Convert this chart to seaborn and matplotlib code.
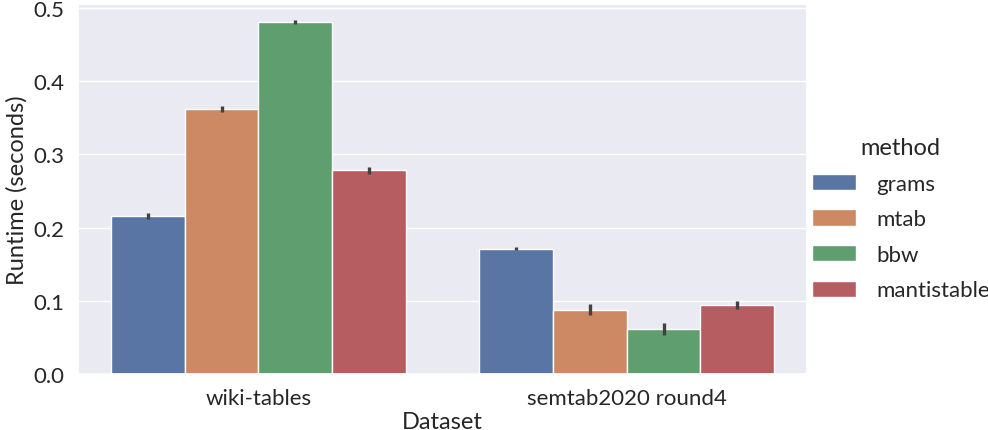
import pandas as pd
import matplotlib.pyplot as plt
import seaborn as sns

# ========== DATA ==========
datasets = ["wiki-tables", "semtab2020 round4"]
methods = ["grams", "mtab", "bbw", "mantistable"]
runtime_wiki = [0.216, 0.362, 0.481, 0.278]
runtime_semtab = [0.171, 0.088, 0.061, 0.094]
err_wiki = [0.004, 0.004, 0.003, 0.005]
err_semtab = [0.002, 0.0075, 0.008, 0.0055]

rows = []
for m, v, e in zip(methods, runtime_wiki, err_wiki):
    rows.append({"dataset": datasets[0], "method": m, "runtime": v, "err": e})
for m, v, e in zip(methods, runtime_semtab, err_semtab):
    rows.append({"dataset": datasets[1], "method": m, "runtime": v, "err": e})
df = pd.DataFrame(rows)

# ========== PLOT ==========
sns.set_theme(style="darkgrid")
plt.rcParams['font.family'] = ['Lato', 'DejaVu Sans']

fig = plt.figure(figsize=(9.88, 4.31), dpi=100)
ax = fig.add_subplot(111)
sns.barplot(data=df, x="dataset", y="runtime", hue="method", order=datasets,
            hue_order=methods, errorbar=None, ax=ax)

# error bars drawn at the bar centres
for i, m in enumerate(methods):
    cont = ax.containers[i]
    sub = df[df["method"] == m].set_index("dataset").loc[datasets]
    xs = [p.get_x() + p.get_width() / 2 for p in cont.patches]
    ax.errorbar(xs, sub["runtime"], yerr=sub["err"], fmt="none",
                ecolor=".26", elinewidth=2.4, capsize=0)

ax.set_xlabel("Dataset", fontsize=17, labelpad=2)
ax.set_ylabel("Runtime (seconds)", fontsize=17)
ax.tick_params(labelsize=16, pad=4)
ax.set_ylim(0, 0.505)

# legend centred on the figure like a catplot legend
sns.move_legend(ax, "center left", bbox_to_anchor=(0.817, 0.49),
                bbox_transform=fig.transFigure, frameon=False,
                title="method", fontsize=16, title_fontsize=17,
                handlelength=2.0, handleheight=0.75, handletextpad=0.9,
                labelspacing=0.7, borderaxespad=0.0, borderpad=0.2)

plt.subplots_adjust(left=0.079, right=0.817, top=0.988, bottom=0.13)
plt.savefig("out.png", dpi=100)
plt.close()
